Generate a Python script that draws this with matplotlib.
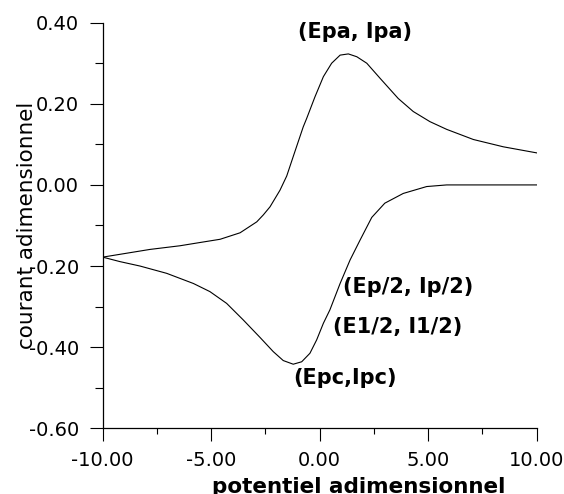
import matplotlib
matplotlib.use('Agg')
import matplotlib.pyplot as plt
from matplotlib.ticker import MultipleLocator, FormatStrFormatter

# forward (anodic) scan, -10 -> +10
E_aller = [-10.00, -7.82, -6.44, -5.52, -4.59, -3.67, -2.90, -2.60, -2.29,
           -1.83, -1.52, -1.22, -0.76, -0.60, -0.22, 0.17, 0.55, 0.94, 1.32,
           1.71, 2.17, 2.78, 3.62, 4.31, 5.08, 5.85, 7.08, 8.46, 10.00]
I_aller = [-0.178, -0.159, -0.150, -0.142, -0.134, -0.118, -0.091, -0.074, -0.054,
           -0.013, 0.022, 0.070, 0.143, 0.164, 0.217, 0.267, 0.300, 0.320, 0.323,
           0.316, 0.300, 0.263, 0.213, 0.181, 0.156, 0.137, 0.112, 0.094, 0.079]

# reverse (cathodic) scan, +10 -> -10
E_retour = [10.00, 5.85, 4.93, 3.85, 3.00, 2.40, 1.86, 1.40, 0.94, 0.47, 0.17,
            -0.14, -0.45, -0.83, -1.22, -1.68, -2.14, -2.75, -3.52, -4.29, -5.06,
            -5.82, -7.05, -8.28, -9.21, -10.00]
I_retour = [0.000, 0.000, -0.004, -0.021, -0.045, -0.080, -0.136, -0.185, -0.243,
            -0.308, -0.341, -0.382, -0.415, -0.436, -0.442, -0.433, -0.411, -0.376,
            -0.333, -0.292, -0.263, -0.243, -0.218, -0.200, -0.189, -0.178]

# point labels
labels = ['(Epa, Ipa)', '(Ep/2, Ip/2)', '(E1/2, I1/2)', '(Epc,Ipc)']
label_E = [1.63, 1.09, 0.63, -1.22]
label_I = [0.376, -0.251, -0.350, -0.475]
label_ha = ['center', 'left', 'left', 'left']

plt.rcParams['axes.unicode_minus'] = False

fig = plt.figure(figsize=(5.64, 4.94), dpi=100)
ax = fig.add_axes([0.1821, 0.1330, 0.7695, 0.8211])

ax.plot(E_aller, I_aller, color='black', lw=0.8)
ax.plot(E_retour, I_retour, color='black', lw=0.8)

for txt, e, i, ha in zip(labels, label_E, label_I, label_ha):
    ax.text(e, i, txt, ha=ha, va='center', fontsize=15, fontweight='bold',
            clip_on=False)

ax.set_xlim(-10, 10)
ax.set_ylim(-0.6, 0.4)
ax.spines['top'].set_visible(False)
ax.spines['right'].set_visible(False)
for s in ['left', 'bottom']:
    ax.spines[s].set_linewidth(0.9)

ax.xaxis.set_major_locator(MultipleLocator(5))
ax.xaxis.set_minor_locator(MultipleLocator(2.5))
ax.yaxis.set_major_locator(MultipleLocator(0.2))
ax.yaxis.set_minor_locator(MultipleLocator(0.1))
ax.xaxis.set_major_formatter(FormatStrFormatter('%.2f'))
ax.yaxis.set_major_formatter(FormatStrFormatter('%.2f'))

ax.tick_params(which='major', direction='out', length=9.4, width=0.8, labelsize=14)
ax.tick_params(axis='x', which='major', pad=7.2)
ax.tick_params(axis='y', which='major', pad=7.5)
ax.tick_params(axis='y', which='minor', direction='out', length=5.5, width=0.8)
ax.tick_params(axis='x', which='minor', direction='out', length=4.3, width=0.8)

fig.text(0.6356, 0.035, 'potentiel adimensionnel', ha='center', va='top',
         fontsize=15.5, fontweight='bold')
fig.text(0.0479, 0.5445, 'courant adimensionnel', rotation=90, ha='center',
         va='center', fontsize=15.5)

fig.savefig('out.png', dpi=100)
